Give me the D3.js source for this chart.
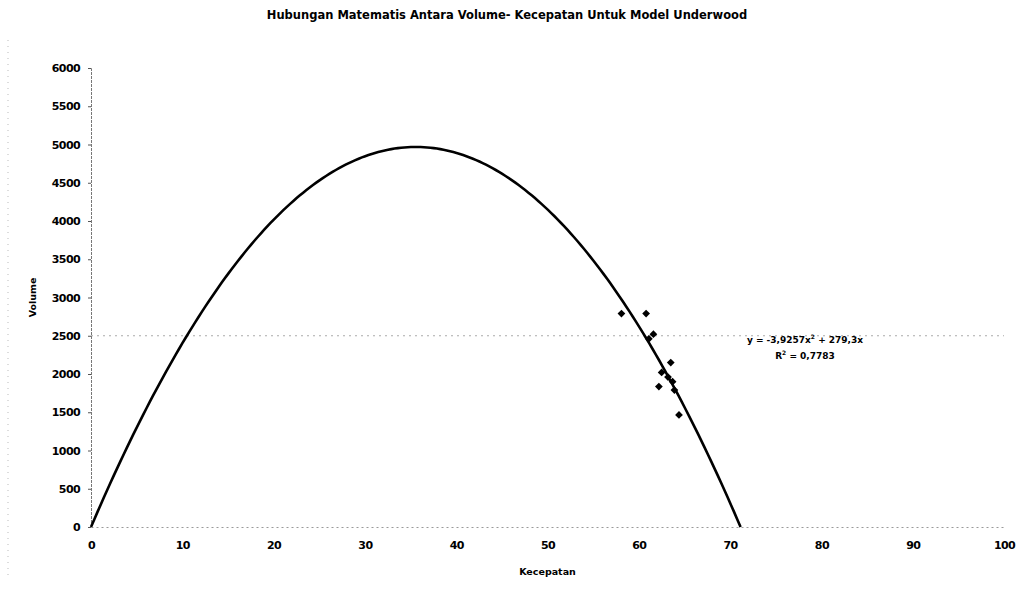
<!DOCTYPE html>
<html>
<head>
<meta charset="utf-8">
<script src="https://cdn.jsdelivr.net/npm/d3@7"></script>
<style>
  body { margin: 0; background: #fff; }
  svg text { font-family: "DejaVu Sans", sans-serif; font-weight: bold; fill: #000; }
</style>
</head>
<body>
<svg id="chart" width="1017" height="595"></svg>
<script>
// observed points (kecepatan, volume)
var speeds = [58.1, 60.8, 61.1, 61.6, 63.5, 62.5, 63.2, 63.7, 62.2, 63.9, 64.4];
var volumes = [2790, 2790, 2460, 2520, 2150, 2020, 1960, 1900, 1835, 1790, 1465];

// trendline coefficients: y = a*x^2 + b*x
var coefA = -3.9257, coefB = 279.3;

var xTicks = [0, 10, 20, 30, 40, 50, 60, 70, 80, 90, 100];
var yTicks = [0, 500, 1000, 1500, 2000, 2500, 3000, 3500, 4000, 4500, 5000, 5500, 6000];

var svg = d3.select('#chart');

var margin = {left: 91, right: 13, top: 68, bottom: 68},
    width = 1017 - margin.left - margin.right,
    height = 595 - margin.top - margin.bottom;

var x = d3.scaleLinear().domain([0, 100]).range([margin.left, margin.left + width]),
    y = d3.scaleLinear().domain([0, 6000]).range([margin.top + height, margin.top]);

// faint dotted outer border on the left (scan artefact of chart area)
svg.append('line')
  .attr('x1', 8).attr('x2', 8).attr('y1', 40).attr('y2', 580)
  .attr('stroke', '#bbb').attr('stroke-width', 1).attr('stroke-dasharray', '1,5');

// gridline at 2500
svg.append('line')
  .attr('x1', x(0)).attr('x2', x(100))
  .attr('y1', y(2500)).attr('y2', y(2500))
  .attr('stroke', '#aaa').attr('stroke-width', 1).attr('stroke-dasharray', '2,4');

// y axis
var yAxis = d3.axisLeft(y).tickValues(yTicks).tickFormat(d3.format('d')).tickSize(3).tickPadding(8);
var gy = svg.append('g').attr('transform', 'translate(' + x(0) + ',0)').call(yAxis);
gy.select('.domain').attr('stroke', '#777').attr('stroke-dasharray', '3,1');
gy.selectAll('.tick line').attr('stroke', '#555');
gy.selectAll('text').style('font-size', '11px').style('letter-spacing', '-0.6px');

// x axis
var xAxis = d3.axisBottom(x).tickValues(xTicks).tickFormat(d3.format('d')).tickSize(0).tickPadding(14);
var gx = svg.append('g').attr('transform', 'translate(0,' + y(0) + ')').call(xAxis);
gx.select('.domain').attr('stroke', '#999').attr('stroke-dasharray', '2,3');
gx.selectAll('text').style('font-size', '11px').style('letter-spacing', '-0.6px');

// trend curve
var xmax = -coefB / coefA;
var curve = d3.range(0, 200).map(function(i) { return xmax * i / 199; });
var line = d3.line()
  .x(function(d) { return x(d); })
  .y(function(d) { return y(coefA * d * d + coefB * d); });

svg.append('path')
  .datum(curve)
  .attr('d', line)
  .attr('fill', 'none')
  .attr('stroke', '#000')
  .attr('stroke-width', 2.6);

// points (square turned 45deg = excel diamond)
var marker = d3.symbol().type(d3.symbolSquare).size(30);
svg.selectAll('.pt')
  .data(speeds)
  .enter().append('path')
  .attr('class', 'pt')
  .attr('d', marker)
  .attr('transform', function(d, i) { return 'translate(' + x(d) + ',' + y(volumes[i]) + ') rotate(45)'; })
  .attr('fill', '#000');

// equation label
var eq = svg.append('text')
  .attr('x', 805).attr('y', 343)
  .attr('text-anchor', 'middle')
  .style('font-size', '9px');
eq.append('tspan').text('y = -3,9257x');
eq.append('tspan').attr('dy', -4).style('font-size', '6px').text('2');
eq.append('tspan').attr('dy', 4).text(' + 279,3x');

var r2 = svg.append('text')
  .attr('x', 805).attr('y', 359)
  .attr('text-anchor', 'middle')
  .style('font-size', '9px');
r2.append('tspan').text('R');
r2.append('tspan').attr('dy', -4).style('font-size', '6px').text('2');
r2.append('tspan').attr('dy', 4).text(' = 0,7783');

// titles
svg.append('text')
  .attr('x', 507).attr('y', 19)
  .attr('text-anchor', 'middle')
  .style('font-size', '11.5px')
  .text('Hubungan Matematis Antara Volume- Kecepatan Untuk Model Underwood');

svg.append('text')
  .attr('x', x(50)).attr('y', 575)
  .attr('text-anchor', 'middle')
  .style('font-size', '9.5px')
  .text('Kecepatan');

svg.append('text')
  .attr('transform', 'translate(36,' + y(3000) + ') rotate(-90)')
  .attr('text-anchor', 'middle')
  .style('font-size', '9.5px')
  .text('Volume');
</script>
</body>
</html>
